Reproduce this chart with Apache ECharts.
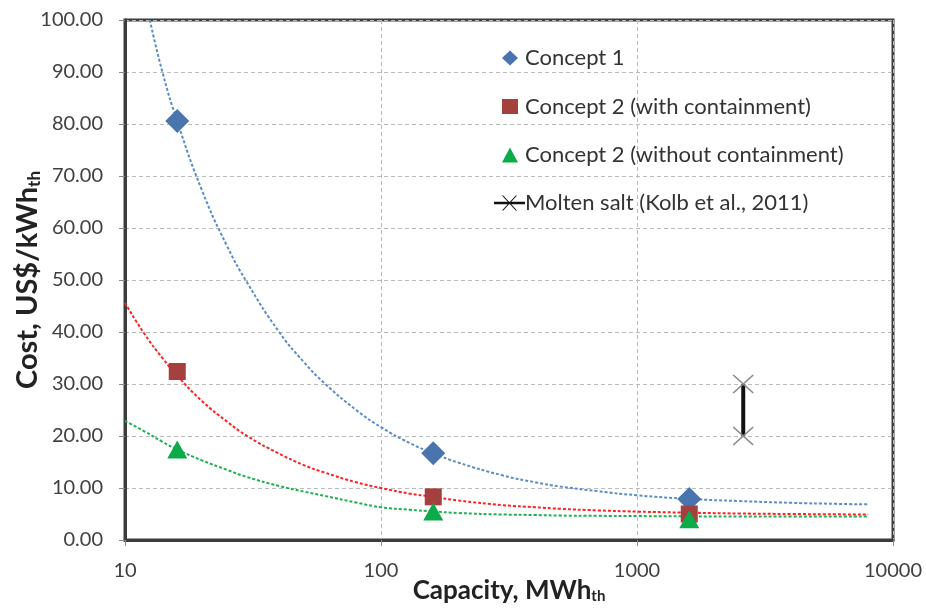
<!DOCTYPE html>
<html><head><meta charset="utf-8">
<script src="https://cdn.jsdelivr.net/npm/echarts@6/dist/echarts.min.js"></script>
<style>html,body{margin:0;padding:0;background:#fff}#c{width:926px;height:611px}</style>
</head><body><div id="c"></div>
<script>
// Measured points
const capacity = [16, 160, 1600];
const concept1 = [80.6, 16.7, 7.9];
const concept2With = [32.4, 8.3, 5.0];
const concept2Without = [17.4, 5.5, 4.0];
// Molten salt range (Kolb et al., 2011)
const moltenX = 2600;
const moltenRange = [20, 30];
// Trendlines
const trendX1 = [12.5, 14, 16, 20, 25, 30, 40, 50, 60, 80, 100, 130, 160, 200, 300, 400, 500, 700, 1000, 1600, 2500, 4000, 6000, 8000];
const trend1 = [100, 90, 80.5, 67.2, 56.6, 49.5, 40, 34.2, 30.2, 25, 21.7, 18.6, 16.7, 14.9, 12.4, 11.1, 10.3, 9.4, 8.6, 7.9, 7.5, 7.15, 6.95, 6.85];
const trendX = [10, 12, 14, 16, 20, 25, 30, 40, 50, 60, 80, 100, 130, 160, 200, 300, 400, 500, 700, 1000, 1600, 2500, 4000, 8000];
const trend2With = [45.6, 39.4, 35, 31.6, 26.7, 22.8, 20, 16.6, 14.4, 13, 11.1, 10, 8.9, 8.3, 7.6, 6.7, 6.3, 6.0, 5.7, 5.46, 5.25, 5.1, 5.0, 4.9];
const trend2Without = [22.9, 20.8, 18.9, 17.4, 15.3, 13.5, 12.1, 10.4, 9.3, 8.5, 7.2, 6.3, 5.8, 5.5, 5.2, 4.9, 4.8, 4.7, 4.65, 4.6, 4.55, 4.5, 4.5, 4.5];
const xTicks = [10, 100, 1000, 10000];
const yTicks = [0, 10, 20, 30, 40, 50, 60, 70, 80, 90, 100];

const pair = (xs, ys) => xs.map((x, i) => [x, ys[i]]);
const font = 'Lato, "Open Sans", sans-serif';
const xMark = 'path://M0,0L20,20M20,0L0,20';
const moltenIcon = 'path://M0,6.3L31,6.3L31,8.7L0,8.7Z M8,0L9.3,0L23,15L21.7,15Z M21.7,0L23,0L9.3,15L8,15Z';

const chart = echarts.init(document.getElementById('c'));
chart.setOption({
  animation: false,
  backgroundColor: '#fff',
  grid: { left: 125, right: 33, top: 20, bottom: 71, show: true, borderColor: '#3c3c3c', borderWidth: 3,
    containLabel: false, outerBoundsMode: 'none' },
  legend: [{
    orient: 'vertical', left: 497, top: 42, itemGap: 26.5, itemWidth: 16, itemHeight: 15,
    textStyle: { fontFamily: font, fontSize: 22, lineHeight: 22, color: '#333', padding: [0, 0, 0, 2] },
    data: [
      { name: 'Concept 1' },
      { name: 'Concept 2 (with containment)' },
      { name: 'Concept 2 (without containment)' }
    ]
  }, {
    orient: 'vertical', left: 489, top: 187, itemWidth: 31, itemHeight: 15, itemGap: 0,
    textStyle: { fontFamily: font, fontSize: 22, lineHeight: 22, color: '#333', padding: [0, 0, 0, -5] },
    data: [{ name: 'Molten salt (Kolb et al., 2011)', icon: moltenIcon, itemStyle: { color: '#111', borderWidth: 0 } }]
  }],
  xAxis: {
    type: 'log', logBase: 10, min: xTicks[0], max: xTicks[xTicks.length - 1],
    name: 'Capacity, MWh{sub|th}', nameLocation: 'middle', nameGap: 37, nameMoveOverlap: false,
    nameTextStyle: { fontFamily: font, fontSize: 26, fontWeight: 'bold', color: '#222',
      rich: { sub: { fontSize: 15, fontWeight: 'bold', color: '#222', padding: [12, 0, 0, 0] } } },
    axisLine: { lineStyle: { color: '#3c3c3c', width: 3 } },
    axisTick: { show: true, length: 6, lineStyle: { color: '#888' } },
    axisLabel: { fontFamily: font, fontSize: 20, color: '#404040', margin: 21, formatter: v => String(v) },
    splitLine: { show: true, lineStyle: { color: '#bbb', type: [4, 3], width: 1 } },
    minorTick: { show: false }
  },
  yAxis: {
    type: 'value', min: yTicks[0], max: yTicks[yTicks.length - 1], interval: 10,
    name: 'Cost, US$/kWh{sub|th}', nameLocation: 'middle', nameGap: 82, nameMoveOverlap: false,
    nameTextStyle: { fontFamily: font, fontSize: 29, fontWeight: 'bold', color: '#222',
      rich: { sub: { fontSize: 17, fontWeight: 'bold', color: '#222', padding: [14, 0, 0, 0] } } },
    axisLine: { show: true, lineStyle: { color: '#3c3c3c', width: 3 } },
    axisTick: { show: true, length: 6, lineStyle: { color: '#888' } },
    axisLabel: { fontFamily: font, fontSize: 20, color: '#404040', margin: 22, formatter: v => v.toFixed(2) },
    splitLine: { show: true, lineStyle: { color: '#bbb', type: [4, 3], width: 1 } }
  },
  series: [
    { name: 'trend1', type: 'line', data: pair(trendX1, trend1), symbol: 'none', smooth: true, silent: true,
      lineStyle: { color: '#5b8cc8', width: 2, type: [3, 2] }, z: 1 },
    { name: 'trend2w', type: 'line', data: pair(trendX, trend2With), symbol: 'none', smooth: true, silent: true,
      lineStyle: { color: '#ff2020', width: 2, type: [3, 2] }, z: 1 },
    { name: 'trend2wo', type: 'line', data: pair(trendX, trend2Without), symbol: 'none', smooth: true, silent: true,
      lineStyle: { color: '#20b050', width: 2, type: [3, 2] }, z: 1 },
    { name: 'Concept 1', type: 'scatter', data: pair(capacity, concept1), symbol: 'diamond', symbolSize: [24, 24],
      itemStyle: { color: '#4a74ad', opacity: 1 }, z: 3 },
    { name: 'Concept 2 (with containment)', type: 'scatter', data: pair(capacity, concept2With), symbol: 'rect', symbolSize: 17,
      itemStyle: { color: '#a4403d', opacity: 1 }, z: 4 },
    { name: 'Concept 2 (without containment)', type: 'scatter', data: pair(capacity, concept2Without), symbol: 'triangle', symbolSize: [20, 18],
      itemStyle: { color: '#0aab48', opacity: 1 }, z: 5 },
    { name: 'Molten salt (Kolb et al., 2011)', type: 'line', data: moltenRange.map(v => [moltenX, v]),
      symbol: xMark, symbolSize: [20, 18], showSymbol: true,
      itemStyle: { color: 'none', borderColor: '#8a8a8a', borderWidth: 1.5 },
      lineStyle: { color: '#111', width: 4 }, z: 3 }
  ]
});
</script>
</body></html>
